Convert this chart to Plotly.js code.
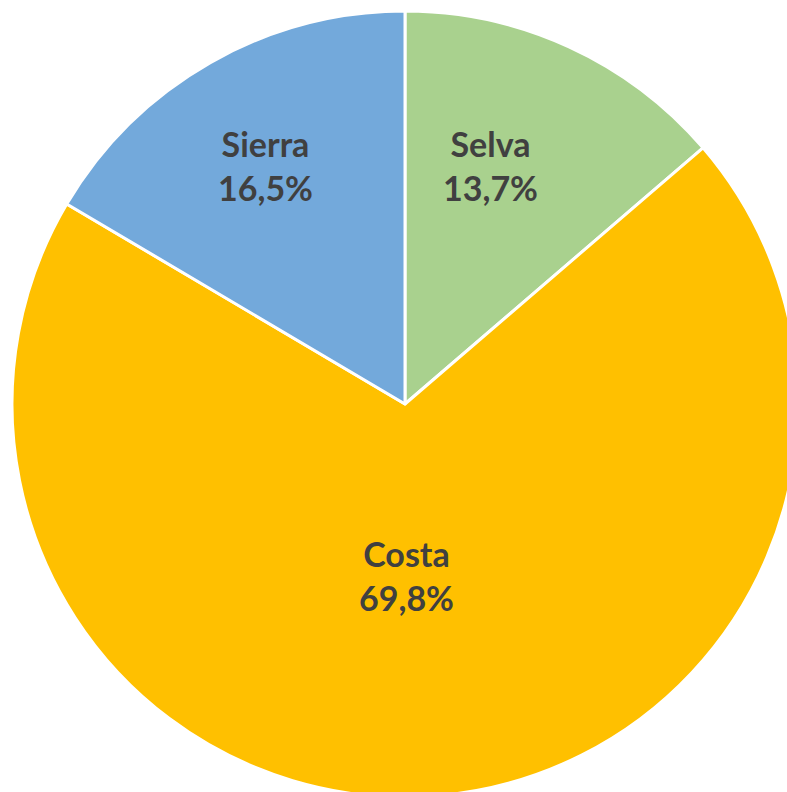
<!DOCTYPE html>
<html>
<head>
<meta charset="utf-8">
<script src="https://cdn.plot.ly/plotly-3.0.1.min.js"></script>
<style>
html, body { margin: 0; padding: 0; overflow: hidden; background: #ffffff; }
#chart { width: 820px; height: 820px; }
</style>
</head>
<body>
<div id="chart"></div>
<script>
const labels = ["Selva", "Costa", "Sierra"];
const values = [13.7, 69.8, 16.5];
const colors = ["#A9D18E", "#FFC000", "#73A9DB"];

const W = 820, H = 820;
const cx = 405, cy = 404, r = 393;

// label anchor points (pixels from top-left of page), Excel-style best fit
const labelPos = [[490, 166], [406, 575], [265, 166]];

const trace = {
  type: "pie",
  labels: labels,
  values: values,
  sort: false,
  direction: "clockwise",
  rotation: 0,
  marker: { colors: colors, line: { color: "#ffffff", width: 3 } },
  textinfo: "none",
  hoverinfo: "none",
  domain: {
    x: [(cx - r) / W, (cx + r) / W],
    y: [(H - cy - r) / H, (H - cy + r) / H]
  }
};

const total = values.reduce((a, b) => a + b, 0);
const annotations = labels.map((lab, i) => ({
  xref: "paper", yref: "paper",
  x: labelPos[i][0] / W,
  y: 1 - labelPos[i][1] / H,
  xanchor: "center", yanchor: "middle",
  showarrow: false,
  align: "center",
  text: "<b>" + lab + "</b><br><b>" + (values[i] / total * 100).toFixed(1).replace(".", ",") + "%</b>",
  font: { family: "Lato, 'Open Sans', sans-serif", size: 34, color: "#404040" }
}));

const layout = {
  width: W,
  height: H,
  margin: { l: 0, r: 0, t: 0, b: 0 },
  showlegend: false,
  paper_bgcolor: "#ffffff",
  plot_bgcolor: "#ffffff",
  annotations: annotations
};

Plotly.newPlot("chart", [trace], layout, { displayModeBar: false, staticPlot: true });
</script>
</body>
</html>
